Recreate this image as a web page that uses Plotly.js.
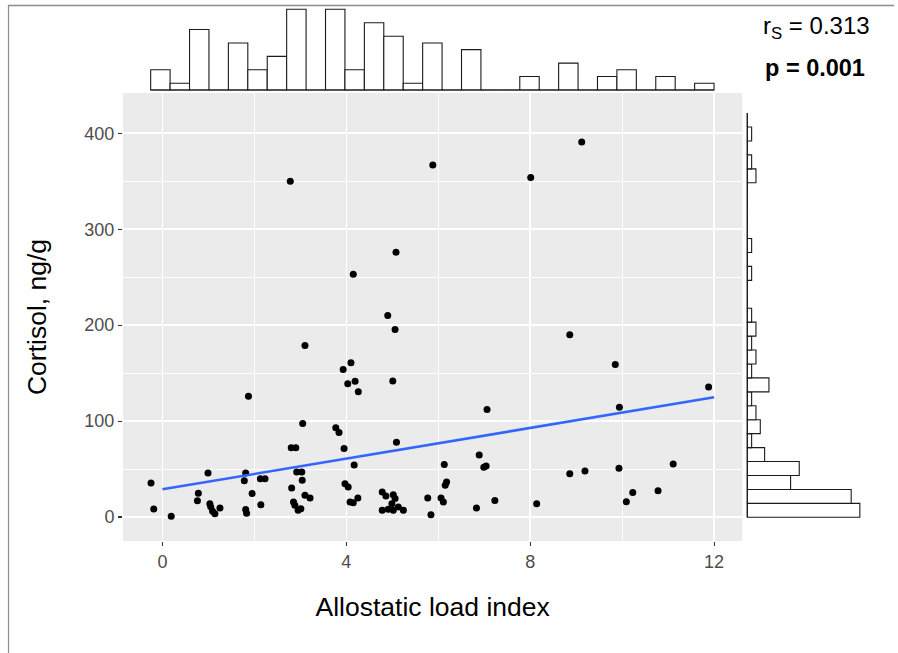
<!DOCTYPE html>
<html><head><meta charset="utf-8">
<script src="https://cdn.plot.ly/plotly-3.0.1.min.js"></script>
<style>html,body{margin:0;padding:0;background:#fff}#chart{width:898px;height:653px}</style>
</head><body><div id="chart"></div>
<script>
// ---- data ----
const allostaticLoad = [-0.25,-0.19,0.19,0.76,0.78,0.99,1.03,1.05,1.09,1.14,1.25,1.78,1.81,1.81,1.83,1.87,1.95,2.13,2.23,2.14,
  2.78,2.80,2.90,2.81,2.85,2.88,2.95,3.01,2.92,3.03,3.04,3.05,3.10,3.10,3.21,3.77,3.84,3.93,3.95,3.97,
  4.04,4.03,4.10,4.19,4.26,4.15,4.17,4.08,4.15,4.25,4.78,4.86,5.02,5.06,4.99,4.78,4.91,5.02,5.13,5.24,
  4.90,5.06,5.01,5.08,5.09,5.77,5.84,5.88,6.06,6.11,6.15,6.18,6.13,6.83,6.89,6.99,7.04,7.06,7.23,8.01,
  8.14,8.86,8.86,9.12,9.19,9.85,9.93,9.94,10.09,10.23,10.78,11.11,11.88];
const cortisol = [35.5,8.3,0.7,16.9,24.8,45.9,13.8,10.5,6.0,3.4,9.3,37.9,45.9,7.9,3.8,126,24.4,40,40,12.9,
  350,72.1,72.1,30.3,15.7,12.2,7.0,8.6,47,47,38.3,97.6,178.7,22.6,19.9,93,88,153.8,71.4,34.8,
  31.4,139,160.7,141.4,130.7,253,54.3,15.7,15.0,19.9,26.1,22,23.3,19.2,13.9,7,8,7,10.5,7,
  210,195.5,141.7,276,78,19.9,2.4,367,19.9,15.7,33.1,36.6,54.7,9.3,64.6,51.8,53.2,112,17.3,354,
  13.8,190,45,391,48,159,50.8,114.4,15.9,25.6,27.3,55.3,135.5];
const fitX = [0, 12];
const fitY = [28.9, 124.8];
const topHistCounts = [3,1,9,0,7,3,5,12,0,12,3,10,8,1,7,0,6,0,0,2,0,4,0,2,3,0,2,0,1];
const topHistStart = -0.257;
const topHistWidth = 0.4226;
const rightHistCounts = [26,24,10,12,4,1,3,2,1,5,1,2,1,2,1,0,0,1,0,1,0,0,0,0,2,1,0,1,0];
const rightHistStart = -0.3;
const rightHistWidth = 14.53;
const xTickVals = [0, 4, 8, 12];
const xTickText = ['0', '4', '8', '12'];
const xMinorVals = [2, 6, 10];
const yTickVals = [0, 100, 200, 300, 400];
const yTickText = ['0', '100', '200', '300', '400'];
const yMinorVals = [50, 150, 250, 350];
const xTitle = 'Allostatic load index';
const yTitle = 'Cortisol, ng/g';
const statR = '0.313';
const statP = '0.001';

// ---- layout helpers (pixel -> paper) ----
const W = 898, H = 653;
const fx = p => p / W;
const fy = p => 1 - p / H;
const FONT = 'Liberation Sans, Arial, Helvetica, sans-serif';

const topCenters = topHistCounts.map((_, i) => topHistStart + (i + 0.5) * topHistWidth);
const rightCenters = rightHistCounts.map((_, i) => rightHistStart + (i + 0.5) * rightHistWidth);
const barStyle = {color: 'white', line: {color: '#1a1a1a', width: 1.1}};

const traces = [
  {type: 'scatter', mode: 'markers', x: allostaticLoad, y: cortisol, xaxis: 'x', yaxis: 'y',
   marker: {color: 'black', size: 7}, hoverinfo: 'x+y'},
  {type: 'scatter', mode: 'lines', x: fitX, y: fitY, xaxis: 'x', yaxis: 'y',
   line: {color: '#3366FF', width: 2.6}},
  {type: 'bar', x: topCenters, y: topHistCounts, width: topHistWidth, xaxis: 'x2', yaxis: 'y2',
   marker: barStyle},
  {type: 'bar', orientation: 'h', y: rightCenters, x: rightHistCounts, width: rightHistWidth,
   xaxis: 'x3', yaxis: 'y3', marker: barStyle}
];

const mainX = [-0.859, 12.613];
const mainY = [-25, 442];
const xDom = [fx(123), fx(742.3)];
const yDom = [fy(541), fy(93)];

const layout = {
  width: W, height: H,
  margin: {l: 0, r: 0, t: 0, b: 0},
  paper_bgcolor: 'white', plot_bgcolor: 'rgba(0,0,0,0)',
  showlegend: false,
  font: {family: FONT, color: '#4D4D4D'},
  xaxis: {domain: xDom, range: mainX, tickmode: 'array', tickvals: xTickVals, ticktext: xTickText,
    ticks: 'outside', ticklen: 4, tickwidth: 1.1, tickcolor: '#333333',
    tickfont: {size: 18, color: '#4D4D4D', family: FONT},
    showgrid: true, gridcolor: 'white', gridwidth: 1.7, zeroline: false, showline: false,
    minor: {tickmode: 'array', tickvals: xMinorVals, showgrid: true, gridcolor: 'white', gridwidth: 0.9, ticks: ''},
    title: {text: xTitle, font: {size: 26.5, color: 'black', family: FONT}, standoff: 26}},
  yaxis: {domain: yDom, range: mainY, tickmode: 'array', tickvals: yTickVals, ticktext: yTickText,
    ticks: 'outside', ticklen: 4, tickwidth: 1.1, tickcolor: '#333333',
    tickfont: {size: 18, color: '#4D4D4D', family: FONT},
    showgrid: true, gridcolor: 'white', gridwidth: 1.7, zeroline: false, showline: false,
    minor: {tickmode: 'array', tickvals: yMinorVals, showgrid: true, gridcolor: 'white', gridwidth: 0.9, ticks: ''},
    title: {text: yTitle, font: {size: 26.5, color: 'black', family: FONT}, standoff: 30}},
  xaxis2: {domain: xDom, range: mainX, visible: false, anchor: 'y2'},
  yaxis2: {domain: [fy(91.0), fy(7.3)], range: [-0.15, 12.3], visible: false, anchor: 'x2'},
  xaxis3: {domain: [fx(746.0), fx(862.0)], range: [-0.3, 26.5], visible: false, anchor: 'y3'},
  yaxis3: {domain: yDom, range: mainY, visible: false, anchor: 'x3'},
  shapes: [
    {type: 'rect', xref: 'x domain', yref: 'y domain', x0: 0, x1: 1, y0: 0, y1: 1,
     fillcolor: '#EBEBEB', line: {width: 0}, layer: 'below'},
    {type: 'line', xref: 'x2', yref: 'y2', x0: topHistStart, x1: topHistStart + topHistCounts.length * topHistWidth,
     y0: 0, y1: 0, line: {color: '#1a1a1a', width: 1.1}},
    {type: 'line', xref: 'x3', yref: 'y3', x0: 0, x1: 0, y0: rightHistStart,
     y1: rightHistStart + rightHistCounts.length * rightHistWidth, line: {color: '#1a1a1a', width: 1.1}},
    {type: 'line', xref: 'paper', yref: 'paper', x0: fx(8), x1: fx(894), y0: fy(5.5), y1: fy(5.5),
     line: {color: '#8c8c8c', width: 1.6}},
    {type: 'line', xref: 'paper', yref: 'paper', x0: fx(8.5), x1: fx(8.5), y0: fy(5), y1: fy(653),
     line: {color: '#8c8c8c', width: 1.2}}
  ],
  annotations: [
    {xref: 'paper', yref: 'paper', x: fx(761), y: fy(28), xanchor: 'left', yanchor: 'middle', showarrow: false,
     text: 'r<sub>S</sub> = ' + statR, font: {size: 24, color: 'black', family: FONT}},
    {xref: 'paper', yref: 'paper', x: fx(763), y: fy(68), xanchor: 'left', yanchor: 'middle', showarrow: false,
     text: '<b>p = ' + statP + '</b>', font: {size: 23.5, color: 'black', family: FONT}}
  ]
};

Plotly.newPlot('chart', traces, layout, {staticPlot: true, displayModeBar: false});
</script>
</body></html>
